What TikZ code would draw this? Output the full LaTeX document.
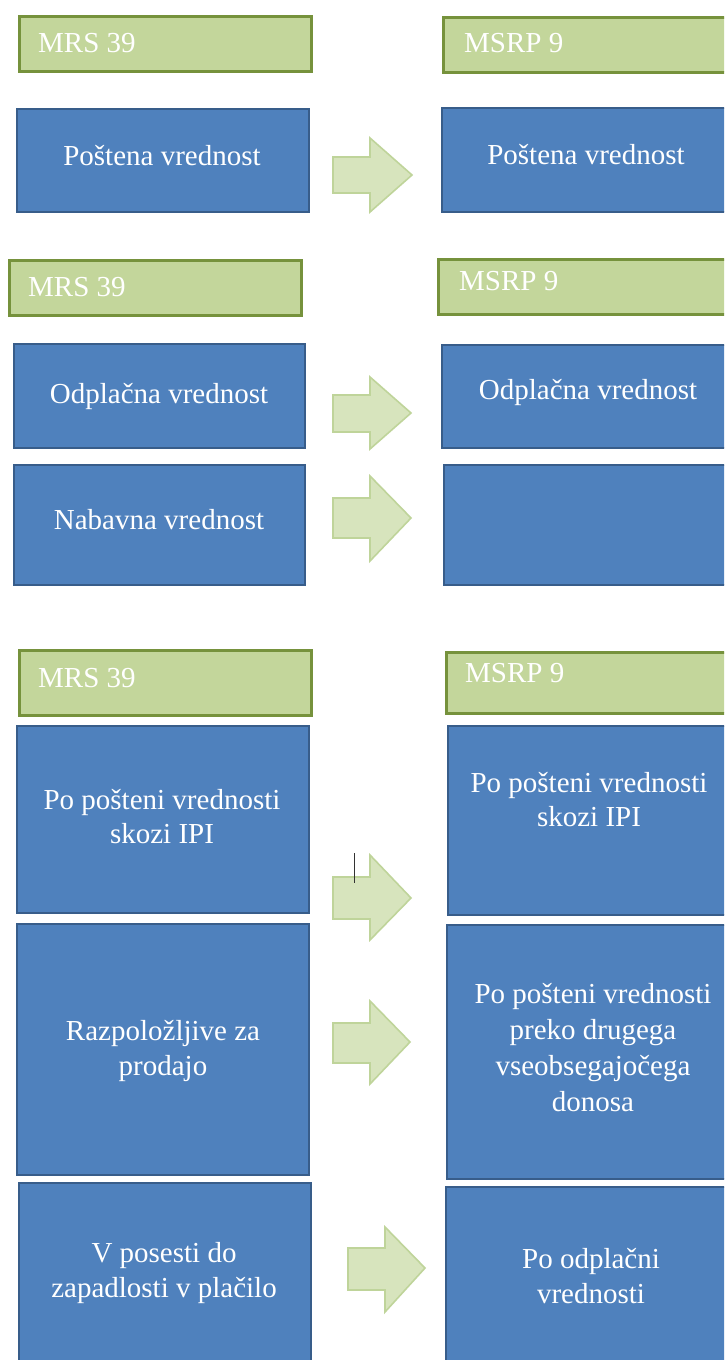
\documentclass[tikz,border=0pt]{standalone}
\usepackage{fontspec}
\setmainfont{Liberation Serif}
\newfontfamily\tnrfont{Liberation Serif}
\definecolor{hdrfill}{HTML}{C3D69B}
\definecolor{hdrdraw}{HTML}{76923C}
\definecolor{bluefill}{HTML}{4F81BD}
\definecolor{bluedraw}{HTML}{385D8A}
\definecolor{arrfill}{HTML}{D7E4BD}
\definecolor{arrdraw}{HTML}{BFD49A}
\tikzset{
  hdr/.style={draw=hdrdraw, fill=hdrfill, line width=2.8pt, rectangle, inner sep=0pt, anchor=north west},
  bbox/.style={draw=bluedraw, fill=bluefill, line width=2.2pt, rectangle, inner sep=0pt, anchor=north west},
  txt/.style={text=white, font=\tnrfont\fontsize{29}{35}\selectfont, inner sep=0pt},
  htxt/.style={txt, anchor=base west},
  btxt/.style={txt, anchor=base},
  barrow/.style={draw=arrdraw, fill=arrfill, line width=1.6pt, line join=miter},
}
\begin{document}
\begin{tikzpicture}[x=1pt,y=-1pt]
\path[use as bounding box, clip] (0,0) rectangle (724,1360);
\fill[white] (0,0) rectangle (724,1360);

% ---------- section 1 ----------
\node[hdr, minimum width=292pt, minimum height=55pt] (h1L) at (18,15) {};
\node[hdr, minimum width=294pt, minimum height=55pt] (h1R) at (442,16) {};
\node[htxt] (h1Lt) at (38,52) {MRS 39};
\node[htxt] (h1Rt) at (464,52) {MSRP 9};
\node[bbox, minimum width=292pt, minimum height=103pt] (b1L) at (16,108) {};
\node[bbox, minimum width=292pt, minimum height=104pt] (b1R) at (441,107) {};
\node[btxt] (b1Lt) at (162,165) {Poštena vrednost};
\node[btxt] (b1Rt) at (586,164) {Poštena vrednost};
\draw[barrow] (333,157) -- (370,157) -- (370,138) -- (412,175) -- (370,212) -- (370,193) -- (333,193) -- cycle;

% ---------- section 2 ----------
\node[hdr, minimum width=292pt, minimum height=55pt] (h2L) at (8,259) {};
\node[hdr, minimum width=294pt, minimum height=55pt] (h2R) at (437,258) {};
\node[htxt] (h2Lt) at (28,296) {MRS 39};
\node[htxt] (h2Rt) at (459,290) {MSRP 9};
\node[bbox, minimum width=291pt, minimum height=104pt] (b2L) at (13,343) {};
\node[bbox, minimum width=296pt, minimum height=103pt] (b2R) at (441,344) {};
\node[btxt] (b2Lt) at (159,403) {Odplačna vrednost};
\node[btxt] (b2Rt) at (588,399) {Odplačna vrednost};
\node[bbox, minimum width=291pt, minimum height=120pt] (b3L) at (13,464) {};
\node[bbox, minimum width=296pt, minimum height=120pt] (b3R) at (443,464) {};
\node[btxt] (b3Lt) at (159,529) {Nabavna vrednost};
\draw[barrow] (333,395) -- (370,395) -- (370,377) -- (411,413) -- (370,449) -- (370,432) -- (333,432) -- cycle;
\draw[barrow] (333,498) -- (370,498) -- (370,476) -- (411,518) -- (370,561) -- (370,538) -- (333,538) -- cycle;

% ---------- section 3 ----------
\node[hdr, minimum width=292pt, minimum height=65pt] (h3L) at (18,649) {};
\node[hdr, minimum width=294pt, minimum height=61pt] (h3R) at (445,651) {};
\node[htxt] (h3Lt) at (38,687) {MRS 39};
\node[htxt] (h3Rt) at (465,682) {MSRP 9};

\node[bbox, minimum width=292pt, minimum height=187pt] (c1L) at (16,725) {};
\node[bbox, minimum width=294pt, minimum height=189pt] (c1R) at (447,725) {};
\node[btxt] (c1Lt1) at (162,809) {Po pošteni vrednosti};
\node[btxt] (c1Lt2) at (162,843) {skozi IPI};
\node[btxt] (c1Rt1) at (589,792) {Po pošteni vrednosti};
\node[btxt] (c1Rt2) at (589,826) {skozi IPI};

\node[bbox, minimum width=292pt, minimum height=251pt] (c2L) at (16,923) {};
\node[bbox, minimum width=295pt, minimum height=254pt] (c2R) at (446,924) {};
\node[btxt] (c2Lt1) at (163,1040) {Razpoložljive za};
\node[btxt] (c2Lt2) at (163,1075) {prodajo};
\node[btxt] (c2Rt1) at (593,1003) {Po pošteni vrednosti};
\node[btxt] (c2Rt2) at (593,1039) {preko drugega};
\node[btxt] (c2Rt3) at (593,1075) {vseobsegajočega};
\node[btxt] (c2Rt4) at (593,1111) {donosa};

\node[bbox, minimum width=292pt, minimum height=200pt] (c3L) at (18,1182) {};
\node[bbox, minimum width=294pt, minimum height=200pt] (c3R) at (445,1186) {};
\node[btxt] (c3Lt1) at (164,1262) {V posesti do};
\node[btxt] (c3Lt2) at (164,1297) {zapadlosti v plačilo};
\node[btxt] (c3Rt1) at (591,1268) {Po odplačni};
\node[btxt] (c3Rt2) at (591,1303) {vrednosti};

\draw[barrow] (333,877) -- (370,877) -- (370,855) -- (411,898) -- (370,940) -- (370,919) -- (333,919) -- cycle;
\draw[barrow] (333,1023) -- (370,1023) -- (370,1001) -- (410,1042) -- (370,1084) -- (370,1063) -- (333,1063) -- cycle;
\draw[barrow] (348,1248) -- (385,1248) -- (385,1227) -- (425,1268) -- (385,1312) -- (385,1290) -- (348,1290) -- cycle;

% text cursor mark
\coordinate (cur1) at (354.5,853);
\coordinate (cur2) at (354.5,883);
\draw[line width=1.2pt, black!80] (cur1) -- (cur2);
\end{tikzpicture}
\end{document}
